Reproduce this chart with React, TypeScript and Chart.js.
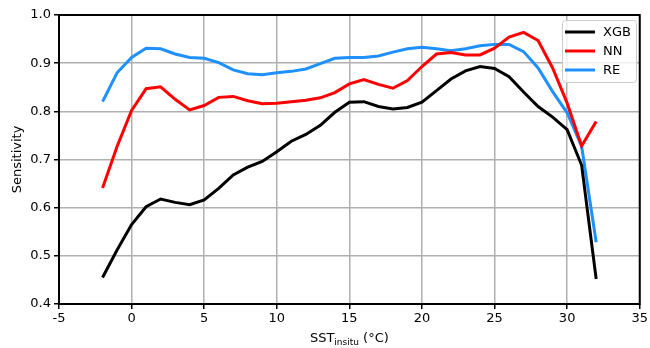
import { useEffect, useRef } from "react";
import { Chart, registerables } from "chart.js";

Chart.register(...registerables);

const temps = [-2, -1, 0, 1, 2, 3, 4, 5, 6, 7, 8, 9, 10, 11, 12, 13, 14, 15, 16, 17, 18, 19, 20, 21, 22, 23, 24, 25, 26, 27, 28, 29, 30, 31, 32];
const xgb = [0.455, 0.512, 0.565, 0.602, 0.618, 0.611, 0.606, 0.616, 0.640, 0.668, 0.684, 0.696, 0.716, 0.738, 0.752, 0.771, 0.798, 0.819, 0.820, 0.810, 0.805, 0.808, 0.819, 0.843, 0.867, 0.884, 0.893, 0.889, 0.872, 0.840, 0.810, 0.788, 0.762, 0.688, 0.452];
const nn = [0.641, 0.727, 0.802, 0.847, 0.851, 0.825, 0.803, 0.812, 0.829, 0.831, 0.822, 0.816, 0.817, 0.820, 0.823, 0.828, 0.839, 0.857, 0.866, 0.856, 0.848, 0.864, 0.893, 0.919, 0.922, 0.917, 0.917, 0.931, 0.954, 0.964, 0.947, 0.890, 0.817, 0.728, 0.779];
const re = [0.820, 0.880, 0.912, 0.931, 0.930, 0.919, 0.912, 0.910, 0.901, 0.886, 0.878, 0.876, 0.880, 0.883, 0.888, 0.899, 0.910, 0.912, 0.912, 0.915, 0.923, 0.930, 0.933, 0.930, 0.926, 0.930, 0.936, 0.939, 0.939, 0.924, 0.890, 0.841, 0.797, 0.727, 0.528];

const seriesNames = ["XGB", "NN", "RE"];
const seriesColors = ["#000000", "#ff0000", "#1e90ff"];
const seriesValues = [xgb, nn, re];

const xMin = -5, xMax = 35, xStep = 5;
const yMin = 0.4, yMax = 1.0, yStep = 0.1;
const yTitle = "Sensitivity";
const xTitleMain = "SST";
const xTitleSub = "insitu";
const xTitleTail = " (°C)";

const FONT = "DejaVu Sans";

const framePlugin = {
  id: "frame",
  afterDatasetsDraw(chart: any) {
    const { ctx, chartArea: a } = chart;
    ctx.save();
    ctx.strokeStyle = "#000";
    ctx.lineWidth = 2;
    ctx.strokeRect(a.left, a.top, a.right - a.left, a.bottom - a.top);
    ctx.restore();
  },
  afterDraw(chart: any) {
    const { ctx, chartArea: a } = chart;
    ctx.save();
    // legend
    const bx = 562, by = 20, bw = 74, bh = 62;
    ctx.fillStyle = "rgba(255,255,255,0.8)";
    ctx.strokeStyle = "#cccccc";
    ctx.lineWidth = 1;
    ctx.beginPath();
    (ctx as any).roundRect(bx + 0.5, by + 0.5, bw, bh, 3);
    ctx.fill();
    ctx.stroke();
    ctx.font = `13px '${FONT}'`;
    ctx.textBaseline = "middle";
    ctx.textAlign = "left";
    seriesNames.forEach((n, i) => {
      const yy = 32 + i * 19;
      ctx.strokeStyle = seriesColors[i];
      ctx.lineWidth = 3;
      ctx.beginPath();
      ctx.moveTo(565, yy);
      ctx.lineTo(595, yy);
      ctx.stroke();
      ctx.fillStyle = "#000";
      ctx.fillText(n, 603, yy + 1);
    });
    // y title
    ctx.fillStyle = "#000";
    ctx.save();
    ctx.translate(18, (a.top + a.bottom) / 2);
    ctx.rotate(-Math.PI / 2);
    ctx.textAlign = "center";
    ctx.textBaseline = "middle";
    ctx.font = `13px '${FONT}'`;
    ctx.fillText(yTitle, 0, 0);
    ctx.restore();
    // x title
    ctx.textAlign = "left";
    ctx.textBaseline = "alphabetic";
    ctx.font = `13px '${FONT}'`;
    const w1 = ctx.measureText(xTitleMain).width;
    const w3 = ctx.measureText(xTitleTail).width;
    ctx.font = `9px '${FONT}'`;
    const w2 = ctx.measureText(xTitleSub).width;
    const total = w1 + w2 + w3;
    let x0 = (a.left + a.right) / 2 - total / 2;
    const base = 342;
    ctx.font = `13px '${FONT}'`;
    ctx.fillText(xTitleMain, x0, base);
    ctx.font = `9px '${FONT}'`;
    ctx.fillText(xTitleSub, x0 + w1, base + 3);
    ctx.font = `13px '${FONT}'`;
    ctx.fillText(xTitleTail, x0 + w1 + w2, base);
    ctx.restore();
  },
};

export default function App() {
  const ref = useRef<HTMLCanvasElement>(null);
  useEffect(() => {
    if (!ref.current) return;
    const chart = new Chart(ref.current, {
      type: "line",
      data: {
        datasets: seriesNames.map((n, i) => ({
          label: n,
          data: temps.map((t, j) => ({ x: t, y: seriesValues[i][j] })),
          borderColor: seriesColors[i],
          backgroundColor: seriesColors[i],
          borderWidth: 3,
          pointRadius: 0,
          tension: 0,
          fill: false,
        })),
      },
      options: {
        responsive: false,
        animation: false,
        devicePixelRatio: 1,
        layout: { padding: { left: 0, top: 15, right: 7, bottom: 0 } },
        plugins: {
          legend: { display: false },
          tooltip: { enabled: false },
        },
        scales: {
          x: {
            type: "linear",
            min: xMin,
            max: xMax,
            afterFit: (s: any) => { s.height = 44; },
            ticks: {
              stepSize: xStep,
              color: "#000",
              font: { family: FONT, size: 13 },
              padding: 2,
              maxRotation: 0,
              callback: (v: any) => String(v),
            },
            grid: {
              color: "#b0b0b0",
              lineWidth: 1.5,
              tickColor: "#000",
              tickLength: 5,
              tickWidth: 1.5,
            },
            border: { display: false },
          },
          y: {
            type: "linear",
            min: yMin,
            max: yMax,
            afterFit: (s: any) => { s.width = 59; },
            ticks: {
              stepSize: yStep,
              color: "#000",
              font: { family: FONT, size: 13 },
              padding: 3,
              callback: (v: any) => Number(v).toFixed(1),
            },
            grid: {
              color: "#b0b0b0",
              lineWidth: 1.5,
              tickColor: "#000",
              tickLength: 5,
              tickWidth: 1.5,
            },
            border: { display: false },
          },
        },
      },
      plugins: [framePlugin],
    } as any);
    return () => chart.destroy();
  }, []);
  return (
    <div style={{ position: "absolute", left: 0, top: 0, width: 650, height: 348, background: "#fff" }}>
      <canvas ref={ref} width={650} height={348} style={{ width: 650, height: 348, display: "block" }} />
    </div>
  );
}
